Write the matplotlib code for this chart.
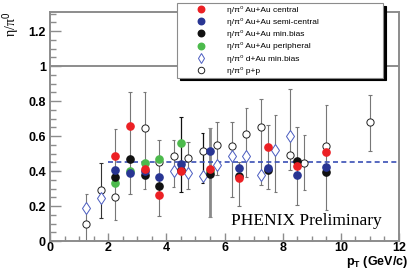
import matplotlib
matplotlib.use("Agg")
import matplotlib.pyplot as plt
from matplotlib.ticker import MultipleLocator, FixedLocator

plt.rcParams['font.family'] = ['Liberation Sans', 'DejaVu Sans']
plt.rcParams['mathtext.fontset'] = 'custom'
plt.rcParams['mathtext.rm'] = 'Liberation Sans'
plt.rcParams['mathtext.bf'] = 'Liberation Sans:bold'
plt.rcParams['mathtext.it'] = 'Liberation Sans:italic'

# ---- data ----
central_x = [2.25, 2.75, 3.25, 3.75, 4.5, 5.5, 6.5, 7.5, 8.5, 9.5]
central_y = [0.486, 0.657, 0.41, 0.263, 0.40, 0.41, 0.36, 0.535, 0.429, 0.51]

semi_x = [2.25, 2.75, 3.25, 3.75, 4.5, 5.5, 6.5, 7.5, 8.5, 9.5]
semi_y = [0.405, 0.39, 0.40, 0.364, 0.443, 0.515, 0.418, 0.42, 0.377, 0.425]

minb_x = [2.25, 2.75, 3.25, 3.75, 4.5, 5.5, 6.5, 7.5, 8.5, 9.5]
minb_y = [0.368, 0.471, 0.377, 0.314, 0.405, 0.385, 0.37, 0.406, 0.457, 0.392]

peri_x = [2.25, 2.75, 3.25, 3.75, 4.5, 5.5]
peri_y = [0.332, 0.403, 0.444, 0.471, 0.563, 0.398]

dau_x = [1.25, 1.75, 4.25, 4.75, 5.25, 5.75, 6.25, 6.75, 7.25, 7.75, 8.25]
dau_y = [0.19, 0.244, 0.40, 0.39, 0.374, 0.434, 0.485, 0.486, 0.378, 0.52, 0.598]

pp_x = [1.25, 1.75, 2.25, 3.25, 3.75, 4.25, 4.75, 5.25, 5.75, 6.25, 6.75, 7.25, 8.25, 8.75, 9.5, 11.0]
pp_y = [0.097, 0.29, 0.252, 0.644, 0.453, 0.485, 0.472, 0.512, 0.552, 0.543, 0.611, 0.653, 0.491, 0.449, 0.543, 0.678]

# error bars (one vertical range per pT bin)
err_x  = [1.25, 1.75, 2.25, 2.75, 3.25, 3.75, 4.25, 4.5, 4.75, 5.25, 5.5, 5.75, 6.25, 6.5, 6.75, 7.25, 7.5, 7.75, 8.25, 8.5, 8.75, 9.5, 11.0]
err_lo = [0.0, 0.13, 0.12, 0.27, 0.30, 0.143, 0.31, 0.28, 0.30, 0.33, 0.139, 0.377, 0.253, 0.20, 0.367, 0.32, 0.30, 0.28, 0.405, 0.206, 0.29, 0.177, 0.514]
err_hi = [0.27, 0.444, 0.638, 0.85, 0.85, 0.577, 0.58, 0.707, 0.567, 0.615, 0.644, 0.68, 0.68, 0.45, 0.758, 0.815, 0.663, 0.72, 0.867, 0.653, 0.605, 0.777, 0.838]
err_col = ['#777777', '#333333', '#777777', '#777777', '#777777', '#777777', '#777777', '#111111', '#777777', '#111111', '#8a8a8a', '#777777', '#777777', '#777777', '#777777', '#777777', '#777777', '#777777', '#777777', '#777777', '#777777', '#777777', '#777777']
err_lw  = [0.8, 0.8, 0.8, 0.8, 0.8, 0.8, 0.8, 0.9, 0.8, 0.9, 2.0, 0.8, 0.8, 0.8, 0.8, 0.8, 0.8, 0.8, 0.8, 0.8, 0.8, 0.8, 0.8]

ref_level = 0.453
ref_start = 2.0

labels = ["η/π⁰ Au+Au central",
          "η/π⁰ Au+Au semi-central",
          "η/π⁰ Au+Au min.bias",
          "η/π⁰ Au+Au peripheral",
          "η/π⁰ d+Au min.bias",
          "η/π⁰ p+p"]

# ---- figure ----
fig = plt.figure(figsize=(4.11, 2.72), dpi=100)
ax = fig.add_axes([50/411, 31/272, 349/411, 229/272])
ax.set_xlim(0, 12)
ax.set_ylim(0, 1.31)

gray = '#8c8c8c'
for s in ax.spines.values():
    s.set_color(gray)
    s.set_linewidth(1.4)

ax.axhline(1.0, color=gray, lw=1.4, zorder=1)

# error bars
for xx, lo, hi, c, lw in zip(err_x, err_lo, err_hi, err_col, err_lw):
    ax.vlines(xx, lo, hi, color=c, lw=lw, zorder=2)
    ax.hlines([lo, hi], xx - 0.06, xx + 0.06, color=c, lw=0.8, zorder=2)

ax.plot([ref_start, 12], [ref_level, ref_level], ls=(0, (3, 2)), color='#3a4fb5', lw=1.2, zorder=3)

ms = 5.2
h1, = ax.plot(pp_x, pp_y, 'o', ms=ms, mfc='white', mec='#222222', mew=0.7, ls='none', zorder=4)
h2, = ax.plot(dau_x, dau_y, 'd', ms=6.0, mfc='white', mec='#4a5cc0', mew=0.7, ls='none', zorder=4)
hg, = ax.plot(peri_x, peri_y, 'o', ms=ms, color='#4cba4c', ls='none', zorder=5)
hk, = ax.plot(minb_x, minb_y, 'o', ms=ms, color='#111111', ls='none', zorder=6)
hb, = ax.plot(semi_x, semi_y, 'o', ms=ms, color='#283593', ls='none', zorder=7)
hr, = ax.plot(central_x, central_y, 'o', ms=ms, color='#ec2024', ls='none', zorder=8)

ax.xaxis.set_major_locator(MultipleLocator(2))
ax.xaxis.set_minor_locator(MultipleLocator(0.5))
ax.yaxis.set_major_locator(FixedLocator([0, 0.2, 0.4, 0.6, 0.8, 1.0, 1.2]))
ax.yaxis.set_minor_locator(MultipleLocator(0.05))
ax.set_yticklabels(['0', '0.2', '0.4', '0.6', '0.8', '1', '1.2'])
ax.set_xticks([0, 2, 4, 6, 8, 10, 12])
ax.set_xticklabels(['0', '2', '4', '6', '8', '10', '12'])

ax.tick_params(axis='both', which='both', direction='in', color=gray, width=1.0,
               labelsize=9, top=False, right=False)
ax.tick_params(axis='y', which='major', length=8, pad=3)
ax.tick_params(axis='y', which='minor', length=4.5)
ax.tick_params(axis='x', which='major', length=6, pad=1)
ax.tick_params(axis='x', which='minor', length=3.5)
for lab in ax.get_xticklabels() + ax.get_yticklabels():
    lab.set_fontweight('bold')

fig.text(408/411, 10/272, r"$\mathbf{p}_\mathbf{T}$ (GeV/c)", ha='right', va='center',
         fontsize=9, fontweight='bold')
fig.text(11/411, 1 - 24/272, r"η/π$^{0}$", rotation=90, ha='center', va='center',
         fontsize=10, family=['Liberation Serif', 'DejaVu Serif'])

ax.text(0.952, 0.07, "PHENIX Preliminary", transform=ax.transAxes, ha='right', va='baseline',
        fontsize=12.5, family=['Liberation Serif'], zorder=9)

leg = ax.legend([hr, hb, hk, hg, h2, h1], labels,
                loc='upper left', bbox_to_anchor=(177/411, 1 - 75/272, 206/411, 72/272),
                bbox_transform=fig.transFigure, mode='expand', borderaxespad=0,
                prop={'size': 6, 'family': ['Liberation Sans', 'DejaVu Sans']},
                frameon=True, fancybox=False, markerscale=0.9,
                shadow={'color': 'black', 'alpha': 1},
                edgecolor=gray, framealpha=1, handlelength=5.2, handletextpad=0.5,
                labelspacing=0.52, borderpad=0.3)
leg.get_frame().set_linewidth(0.8)
leg.set_zorder(10)

fig.savefig("out.png", dpi=100)
